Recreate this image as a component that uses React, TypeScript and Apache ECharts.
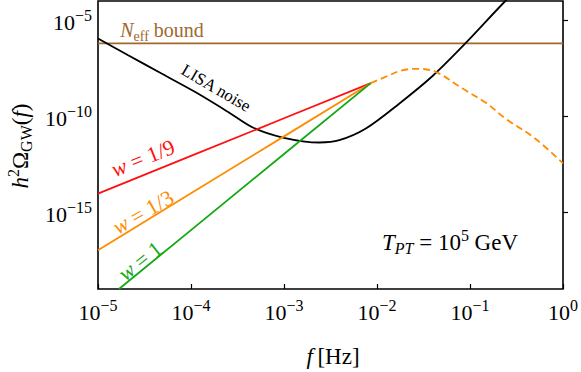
import React, { useEffect, useRef } from "react";
import * as echarts from "echarts";

// ---- data (frequency in Hz, h^2 Omega_GW) ----
const xTickValues = [1e-5, 1e-4, 1e-3, 1e-2, 1e-1, 1];
const yTickValues = [1e-15, 1e-10, 1e-5];

const neffF = [1e-5, 1];
const neffOmega = [6.2e-7, 6.2e-7];

const lisaF = [1e-5, 2.11e-5, 4.82e-5, 1.1e-4, 2.51e-4, 4.62e-4, 9.68e-4, 2.4e-3, 3.93e-3, 7.59e-3, 1.73e-2, 3.93e-2, 8.91e-2, 0.24, 0.316];
const lisaOmega = [1.12e-6, 1.51e-7, 1.66e-8, 1.86e-9, 1.66e-10, 2.57e-11, 7.76e-12, 4.27e-12, 5.62e-12, 2.29e-11, 4.47e-10, 1.2e-8, 6.17e-7, 1.0e-4, 3.2e-4];

const w19F = [1e-5, 1e-4, 1e-3, 8.57e-3];
const w19Omega = [9.3e-15, 8.5e-13, 7.8e-11, 5.25e-9];

const w13F = [1e-5, 1e-4, 1e-3, 8.57e-3];
const w13Omega = [1.05e-17, 9.7e-15, 8.9e-12, 5.25e-9];

const w1F = [1.68e-5, 1e-4, 1e-3, 8.57e-3];
const w1Omega = [1e-19, 1.17e-16, 1.07e-12, 5.25e-9];

const tailF = [8.57e-3, 0.0135, 0.0186, 0.0269, 0.0427, 0.0832, 0.151, 0.24, 0.501, 1];
const tailOmega = [5.25e-9, 1.35e-8, 2.45e-8, 2.95e-8, 2.04e-8, 2.75e-9, 4.7e-10, 7.6e-11, 6.9e-12, 3.5e-13];

const FONT = "Liberation Serif";
const BROWN = "#a0692d";
const RED = "#ff1010";
const ORANGE = "#ff8c00";
const GREEN = "#12a812";

const toLog = (f: number[], o: number[]) => f.map((v, i) => [Math.log10(v), Math.log10(o[i])]);
const expStr = (v: number) => (v < 0 ? "\u2212" + Math.abs(Math.round(v)) : String(Math.round(v)));

const tickRich = {
  b: { fontFamily: FONT, fontSize: 22, lineHeight: 26, color: "#000", verticalAlign: "bottom" },
  s: { fontFamily: FONT, fontSize: 16, lineHeight: 14, color: "#000", verticalAlign: "top" },
};

export default function App() {
  const ref = useRef<HTMLDivElement>(null);
  useEffect(() => {
    if (!ref.current) return;
    const chart = echarts.init(ref.current, null, { renderer: "svg" });
    const line = (data: number[][], color: string, dashed = false, smooth: number | boolean = false, z = 2) => ({
      type: "line",
      data,
      showSymbol: false,
      symbol: "none",
      smooth,
      z,
      clip: true,
      lineStyle: { color, width: 1.8, type: dashed ? [7, 4] : "solid" },
    });
    const txt = (x: number, y: number, text: string, color: string, size: number, rotation = 0, rich: any = {}) => ({
      type: "text",
      x,
      y,
      rotation,
      z: 100,
      style: {
        text,
        fill: color,
        font: `${size}px "${FONT}"`,
        fontFamily: FONT,
        fontSize: size,
        align: "center",
        verticalAlign: "middle",
        rich,
      },
    });
    const mk = (size: number, color: string) => ({
      n: { fontFamily: FONT, fontSize: size, lineHeight: size + 6, fill: color, color },
      i: { fontFamily: FONT, fontSize: size, lineHeight: size + 6, fontStyle: "italic", fill: color, color },
      sub: { fontFamily: FONT, fontSize: Math.round(size * 0.68), lineHeight: Math.round(size * 0.6), verticalAlign: "bottom", fill: color, color },
      subi: { fontFamily: FONT, fontSize: Math.round(size * 0.68), lineHeight: Math.round(size * 0.6), verticalAlign: "bottom", fontStyle: "italic", fill: color, color },
      sup: { fontFamily: FONT, fontSize: Math.round(size * 0.68), lineHeight: Math.round(size * 0.6), verticalAlign: "top", fill: color, color },
    });
    chart.setOption({
      animation: false,
      grid: { left: 98, right: 17, top: 1, bottom: 83, show: true, borderColor: "#000", borderWidth: 1.6, backgroundColor: "transparent" },
      xAxis: {
        type: "value",
        min: -5,
        max: 0,
        interval: 1,
        axisLine: { show: false },
        splitLine: { show: false },
        axisTick: { inside: true, length: 5, lineStyle: { color: "#000", width: 1.2 } },
        axisLabel: {
          margin: 8,
          formatter: (v: number) => `{b|10}{s|${expStr(v)}}`,
          rich: tickRich,
        },
      },
      yAxis: {
        type: "value",
        min: -19,
        max: -4,
        axisLine: { show: false },
        splitLine: { show: false },
        axisTick: { inside: true, length: 5, lineStyle: { color: "#000", width: 1.2 }, customValues: yTickValues.map(Math.log10) },
        axisLabel: {
          margin: 6,
          customValues: yTickValues.map(Math.log10),
          formatter: (v: number) => `{b|10}{s|${expStr(v)}}`,
          rich: tickRich,
        },
      },
      series: [
        line(toLog(neffF, neffOmega), BROWN),
        line(toLog(lisaF, lisaOmega), "#000", false, 0.3, 3),
        line(toLog(w19F, w19Omega), RED, false, false, 4),
        line(toLog(w13F, w13Omega), ORANGE, false, false, 4),
        line(toLog(w1F, w1Omega), GREEN, false, false, 4),
        line(toLog(tailF, tailOmega), ORANGE, true, 0.35, 4),
      ],
      graphic: [
        txt(162, 30, "{i|N}{sub|eff} {n|bound}", BROWN, 20, 0, mk(20, BROWN)),
        txt(216, 88, "LISA noise", "#000", 17, -0.53),
        txt(143, 158, "{i|w} {n|= 1/9}", RED, 22, 0.38, mk(22, RED)),
        txt(143, 212, "{i|w} {n|= 1/3}", ORANGE, 22, 0.52, mk(22, ORANGE)),
        txt(140, 261, "{i|w} {n|= 1}", GREEN, 22, 0.67, mk(22, GREEN)),
        txt(450, 242, "{i|T}{subi|PT} {n|= 10}{sup|5} {n|GeV}", "#000", 23, 0, mk(23, "#000")),
        txt(333, 356, "{i|f}{n|\u2009[Hz]}", "#000", 23, 0, mk(23, "#000")),
        txt(20, 146, "{i|h}{sup|2}{n|\u03A9}{sub|GW}{n|(}{i|f}{n|)}", "#000", 23, Math.PI / 2, mk(23, "#000")),
      ],
    });
    return () => chart.dispose();
  }, []);
  return <div ref={ref} style={{ position: "fixed", left: 0, top: 0, width: 581, height: 372, background: "#fff" }} />;
}
